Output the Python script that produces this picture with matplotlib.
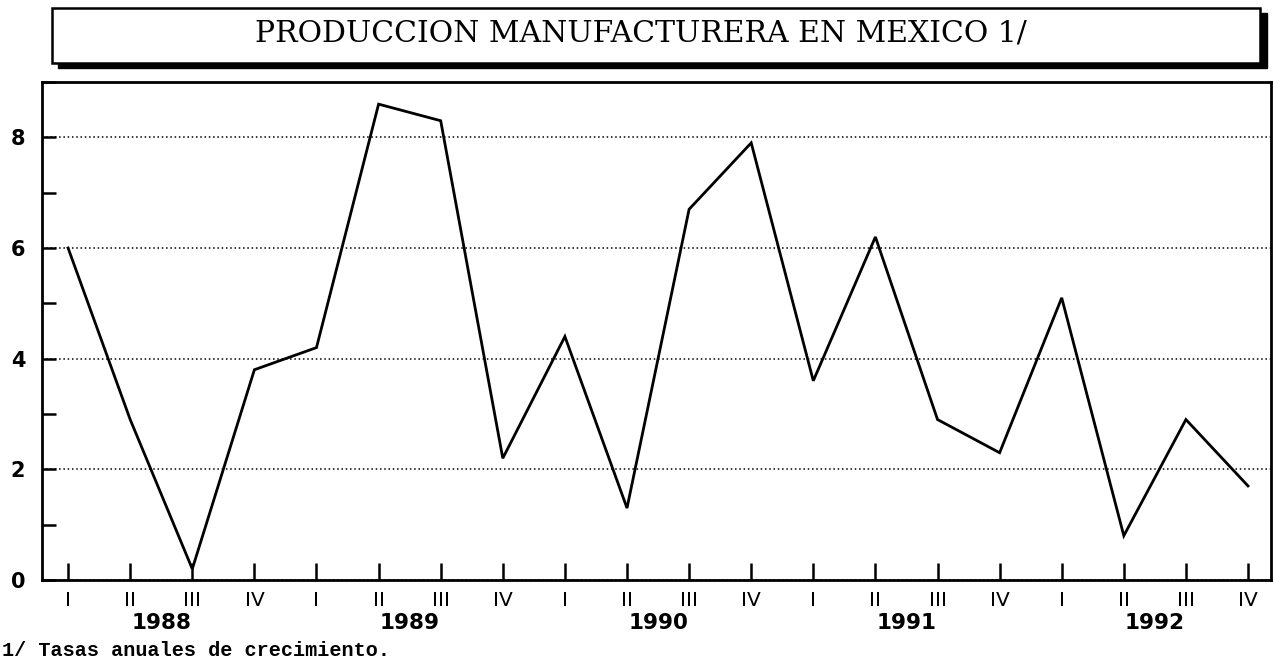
import matplotlib
matplotlib.use("Agg")
import matplotlib.pyplot as plt
from matplotlib.patches import Rectangle
from matplotlib.ticker import MultipleLocator

# tasas anuales de crecimiento, trimestral 1988-1992
trimestres = ["I", "II", "III", "IV"] * 5
anios = ["1988", "1989", "1990", "1991", "1992"]
valores = [6.0, 2.9, 0.2, 3.8, 4.2, 8.6, 8.3, 2.2, 4.4, 1.3,
           6.7, 7.9, 3.6, 6.2, 2.9, 2.3, 5.1, 0.8, 2.9, 1.7]

W, H = 1273, 662
fig = plt.figure(figsize=(W / 100, H / 100), dpi=100)
ax = fig.add_axes([42 / W, 1 - 580 / H, (1271 - 42) / W, (580 - 82) / H])

x = list(range(len(valores)))
ax.plot(x, valores, color="black", lw=2.0, solid_joinstyle="miter")

ax.set_xlim(-0.42, 19.37)
ax.set_ylim(0, 9)
ax.set_yticks([0, 2, 4, 6, 8])
ax.yaxis.set_minor_locator(MultipleLocator(1))
ax.yaxis.grid(True, which="major", color="black", lw=1.1, linestyle=(0, (1, 1.8)))
ax.set_axisbelow(True)

ax.set_xticks(x)
ax.set_xticklabels(trimestres, fontsize=14.5, family="DejaVu Sans")
ax.tick_params(axis="x", direction="in", length=12, width=1.8, pad=8)
ax.tick_params(axis="y", which="major", direction="in", length=10, width=1.8, pad=12,
               labelsize=15)
ax.tick_params(axis="y", which="minor", direction="in", length=10, width=1.8)
for lab in ax.get_yticklabels():
    lab.set_fontweight("bold")

for s in ax.spines.values():
    s.set_linewidth(2)

for i, a in enumerate(anios):
    ax.text(i * 4 + 1.5, -43 / 498, a, transform=ax.get_xaxis_transform(),
            ha="center", va="center", fontsize=15.5, fontweight="bold")

# caja del titulo con sombra
fig.patches.append(Rectangle((58 / W, 1 - 68 / H), (1267 - 58) / W, (68 - 13) / H,
                             transform=fig.transFigure, facecolor="black", edgecolor="black"))
fig.patches.append(Rectangle((52 / W, 1 - 63 / H), (1260 - 52) / W, (63 - 8) / H,
                             transform=fig.transFigure, facecolor="white", edgecolor="black",
                             lw=1.8))
fig.text(641 / W, 1 - 34 / H, "PRODUCCION MANUFACTURERA EN MEXICO 1/",
         ha="center", va="center", fontsize=21.5, family="DejaVu Serif")

fig.text(2 / W, 1 - 650 / H, "1/ Tasas anuales de crecimiento.",
         ha="left", va="center", fontsize=14.5, fontweight="bold", family="Liberation Mono")

fig.savefig("out.png", dpi=100)
